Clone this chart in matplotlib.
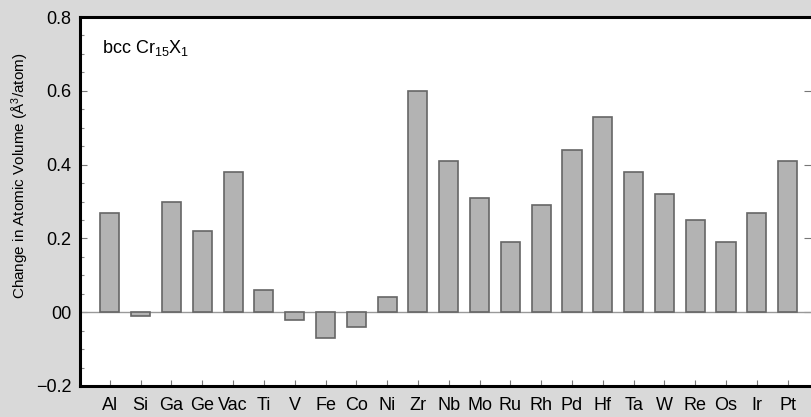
import matplotlib.pyplot as plt
from matplotlib.ticker import MultipleLocator, FixedLocator

plt.rcParams['font.family'] = ['Liberation Sans', 'DejaVu Sans']
plt.rcParams['mathtext.fontset'] = 'custom'
plt.rcParams['mathtext.rm'] = 'Liberation Sans'
plt.rcParams['mathtext.it'] = 'Liberation Sans'

elements = ['Al', 'Si', 'Ga', 'Ge', 'Vac', 'Ti', 'V', 'Fe', 'Co', 'Ni', 'Zr', 'Nb',
            'Mo', 'Ru', 'Rh', 'Pd', 'Hf', 'Ta', 'W', 'Re', 'Os', 'Ir', 'Pt']
dvol = [0.27, -0.01, 0.30, 0.22, 0.38, 0.06, -0.02, -0.07, -0.04, 0.04, 0.60, 0.41,
        0.31, 0.19, 0.29, 0.44, 0.53, 0.38, 0.32, 0.25, 0.19, 0.27, 0.41]
yticks = [-0.2, 0.0, 0.2, 0.4, 0.6, 0.8]
ylabels = ['\u22120.2', '00', '0.2', '0.4', '0.6', '0.8']

fig = plt.figure(figsize=(8.11, 4.17), dpi=100, facecolor='#d9d9d9')
ax = fig.add_axes([80 / 811, 1 - 386 / 417, 1 - 80 / 811, (386 - 17) / 417])
ax.set_facecolor('white')

x = list(range(len(elements)))
ax.bar(x, dvol, width=0.62, color='#b3b3b3', edgecolor='#666666', linewidth=1.2, zorder=3)
ax.axhline(0, color='#999999', linewidth=1.0, zorder=2)

ax.set_xlim(-0.97, 22.76)
ax.set_ylim(-0.2, 0.8)
ax.set_xticks(x)
ax.set_xticklabels(elements)
ax.yaxis.set_major_locator(FixedLocator(yticks))
ax.set_yticklabels(ylabels)
ax.yaxis.set_minor_locator(MultipleLocator(0.05))

for s in ['left', 'bottom', 'top']:
    ax.spines[s].set_linewidth(2.2)
    ax.spines[s].set_color('black')
ax.spines['right'].set_visible(False)

ax.tick_params(axis='x', direction='in', length=4, width=0.8, color='#777777',
               labelsize=13, pad=8)
ax.tick_params(axis='y', which='major', direction='in', length=5, width=0.8,
               color='#777777', labelsize=13, pad=6, right=True)
ax.tick_params(axis='y', which='minor', direction='in', length=3, width=0.8,
               color='#888888', right=False)

ax.set_ylabel('Change in Atomic Volume (\u00c5$^3$/atom)', fontsize=11, va='center')
ax.yaxis.set_label_coords(-0.082, 0.569)
ax.text(0.03, 0.916, 'bcc Cr$_{15}$X$_1$', transform=ax.transAxes, fontsize=13,
        va='center', ha='left')

fig.savefig('out.png', dpi=100, facecolor=fig.get_facecolor())
